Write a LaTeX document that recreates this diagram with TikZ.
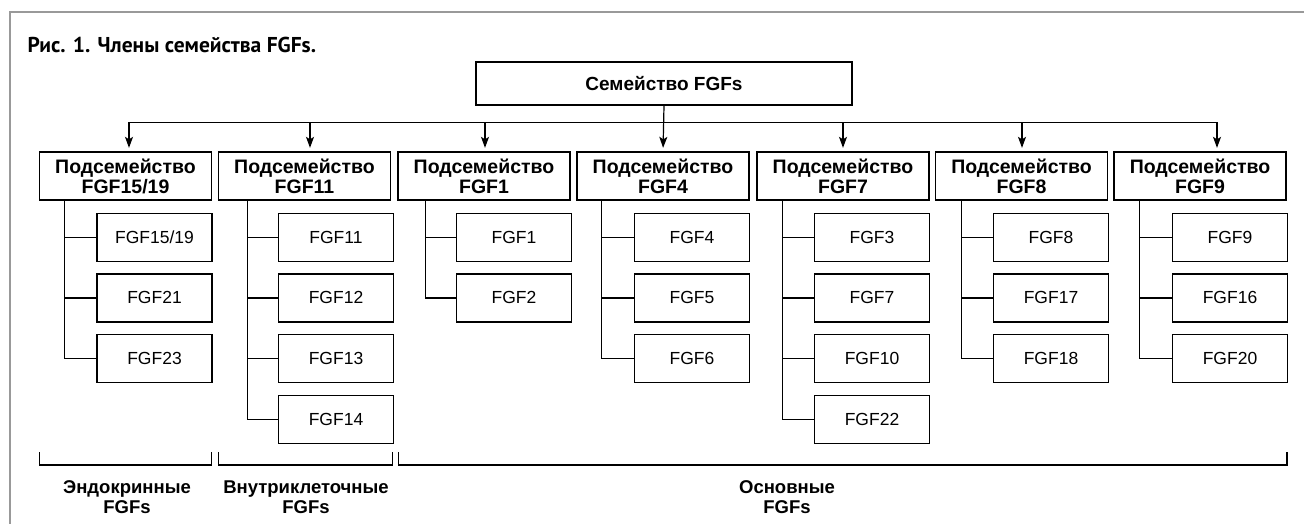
\documentclass[tikz,border=0pt]{standalone}
\usepackage{fontspec}
\setmainfont{Liberation Sans}
\newfontfamily\titlefont{PT Sans}
\usetikzlibrary{arrows.meta,calc}
\begin{document}
\begin{tikzpicture}[x=1pt,y=-1pt,
  line width=1.2pt,
  subbox/.style={draw, line width=1.3pt, minimum width=172pt, minimum height=48pt, inner sep=0pt, align=center, font=\bfseries\fontsize{19.5}{20}\selectfont},
  topbox/.style={draw, line width=1.3pt, minimum width=376pt, minimum height=43pt, inner sep=0pt, font=\bfseries\fontsize{19}{20}\selectfont},
  leaf/.style={draw, line width=1.3pt, minimum width=115pt, minimum height=48pt, inner sep=0pt, font=\fontsize{17.5}{20}\selectfont},
  arr/.style={-{Stealth[length=11pt,width=8pt,inset=2.5pt]}, shorten >=3.5pt},
  tree/.style={line width=1.2pt},
  brack/.style={line width=1.2pt},
  grp/.style={align=center, inner sep=0pt, font=\bfseries\fontsize{18.5}{20}\selectfont},
  frame/.style={draw=black!40, line width=2pt}
]
\useasboundingbox (0,0) rectangle (1304,524);
% frame
\draw[frame] (10,524) -- (10,12) -- (1304,12);
% title
\node[anchor=base west, inner sep=0pt, font=\titlefont\bfseries\fontsize{21.5}{24}\selectfont] (title) at (27,53) {Рис. 1. Члены семейства FGFs.};
% top
\node[topbox] (top) at (664,83.5) {Семейство FGFs};
% subfamilies
\node[subbox] (s1) at (125.5,176) {Подсемейство\\FGF15/19};
\node[subbox] (s2) at (304.5,176) {Подсемейство\\FGF11};
\node[subbox] (s3) at (484,176) {Подсемейство\\FGF1};
\node[subbox] (s4) at (663,176) {Подсемейство\\FGF4};
\node[subbox] (s5) at (843,176) {Подсемейство\\FGF7};
\node[subbox] (s6) at (1021.5,176) {Подсемейство\\FGF8};
\node[subbox] (s7) at (1200,176) {Подсемейство\\FGF9};
% bus
\coordinate (b1) at ($(s1.north)+(3.5,-29)$);
\coordinate (b2) at ($(s2.north)+(5.5,-29)$);
\coordinate (b3) at ($(s3.north)+(1,-29)$);
\coordinate (b5) at ($(s5.north)+(0,-29)$);
\coordinate (b6) at ($(s6.north)+(0.5,-29)$);
\coordinate (b7) at ($(s7.north)+(17,-29)$);
\draw[tree] (b1) -- (b7);
\draw[tree,arr] (top.south) -- (s4.north);
\draw[tree,arr] (b1) -- (b1 |- s1.north);
\draw[tree,arr] (b2) -- (b2 |- s2.north);
\draw[tree,arr] (b3) -- (b3 |- s3.north);
\draw[tree,arr] (b5) -- (b5 |- s5.north);
\draw[tree,arr] (b6) -- (b6 |- s6.north);
\draw[tree,arr] (b7) -- (b7 |- s7.north);
% leaves
\foreach \col/\cx/\off/\list in {
  1/154.5/26/{FGF15/19,FGF21,FGF23},
  2/336/30/{FGF11,FGF12,FGF13,FGF14},
  3/514/28/{FGF1,FGF2},
  4/692/25/{FGF4,FGF5,FGF6},
  5/872/26/{FGF3,FGF7,FGF10,FGF22},
  6/1051/27/{FGF8,FGF17,FGF18},
  7/1230/26/{FGF9,FGF16,FGF20}} {
  \foreach \name [count=\r] in \list {
    \node[leaf] (c\col-\r) at (\cx,{176.5+60.7*\r}) {\name};
    \draw[tree] ($(s\col.south west)+(\off,0)$) |- (c\col-\r.west);
  }
}
% brackets
\draw[brack] (39.5,452) -- (39.5,465) -- (211.5,465) -- (211.5,452);
\draw[brack] (218.5,452) -- (218.5,465) -- (392.5,465) -- (392.5,452);
\draw[brack] (398.5,452) -- (398.5,465) -- (1287,465) -- (1287,452);
\node[grp] (g1) at (127,497) {Эндокринные\\FGFs};
\node[grp] (g2) at (306,497) {Внутриклеточные\\FGFs};
\node[grp] (g3) at (787,497) {Основные\\FGFs};
\end{tikzpicture}
\end{document}
